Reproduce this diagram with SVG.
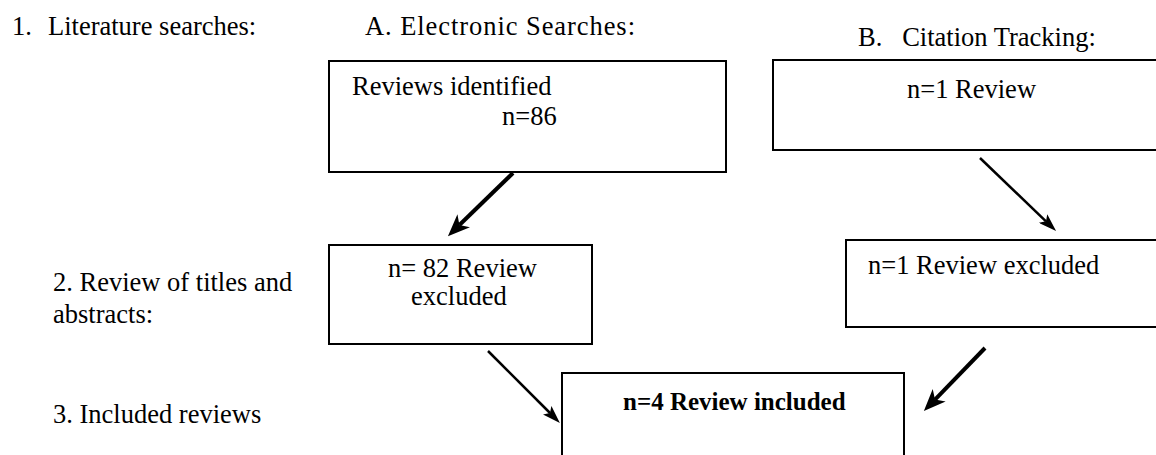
<svg xmlns="http://www.w3.org/2000/svg" width="1156" height="455" viewBox="0 0 1156 455">
<style>
text{font-family:"Liberation Serif","Times New Roman",serif;font-size:26.5px;fill:#000}
.b{font-weight:bold;font-size:25px}
.box{fill:#fff;stroke:#000;stroke-width:2}
.thick{stroke:#000;stroke-width:4;fill:none}
.thin{stroke:#000;stroke-width:2.5;fill:none}
</style>
<defs>
<marker id="ah1" markerUnits="userSpaceOnUse" viewBox="0 0 22 18" markerWidth="22" markerHeight="18" refX="6" refY="9" orient="auto">
<path d="M0,0 L22,9 L0,18 L6,9 Z" fill="#000"/>
</marker>
<marker id="ah2" markerUnits="userSpaceOnUse" viewBox="0 0 18 12" markerWidth="18" markerHeight="12" refX="4" refY="6" orient="auto">
<path d="M0,0 L18,6 L0,12 L4,6 Z" fill="#000"/>
</marker>
</defs>
<rect width="1156" height="455" fill="#fff"/>
<g id="labels">
<text x="12" y="35">1.</text>
<text x="48" y="35">Literature searches:</text>
<text x="365" y="35" textLength="270" lengthAdjust="spacing">A. Electronic Searches:</text>
<text x="858" y="46" xml:space="preserve">B.   Citation Tracking:</text>
<text x="53" y="291">2. Review of titles and</text>
<text x="53" y="323">abstracts:</text>
<text x="53" y="423">3. Included reviews</text>
</g>
<g id="node-identified">
<rect class="box" x="329" y="61" width="397" height="111"/>
<text x="352" y="95">Reviews identified</text>
<text x="502" y="125">n=86</text>
</g>
<g id="node-citation">
<rect class="box" x="773" y="60" width="395" height="90"/>
<text x="907" y="98">n=1 Review</text>
</g>
<g id="node-excluded-a">
<rect class="box" x="329" y="245" width="263" height="99"/>
<text x="388" y="277">n= 82 Review</text>
<text x="411" y="305">excluded</text>
</g>
<g id="node-excluded-b">
<rect class="box" x="846" y="240" width="322" height="87"/>
<text x="868" y="274">n=1 Review excluded</text>
</g>
<g id="node-included">
<rect class="box" x="562" y="373" width="342" height="95"/>
<text class="b" x="623" y="410">n=4 Review included</text>
</g>
<g id="connectors">
<line class="thick" x1="513" y1="173" x2="459.4" y2="225" marker-end="url(#ah1)"/>
<line class="thin" x1="980" y1="158" x2="1046" y2="221.3" marker-end="url(#ah2)"/>
<line class="thin" x1="488" y1="351" x2="550" y2="413" marker-end="url(#ah2)"/>
<line class="thick" x1="985" y1="348" x2="935" y2="399.6" marker-end="url(#ah1)"/>
</g>
</svg>
